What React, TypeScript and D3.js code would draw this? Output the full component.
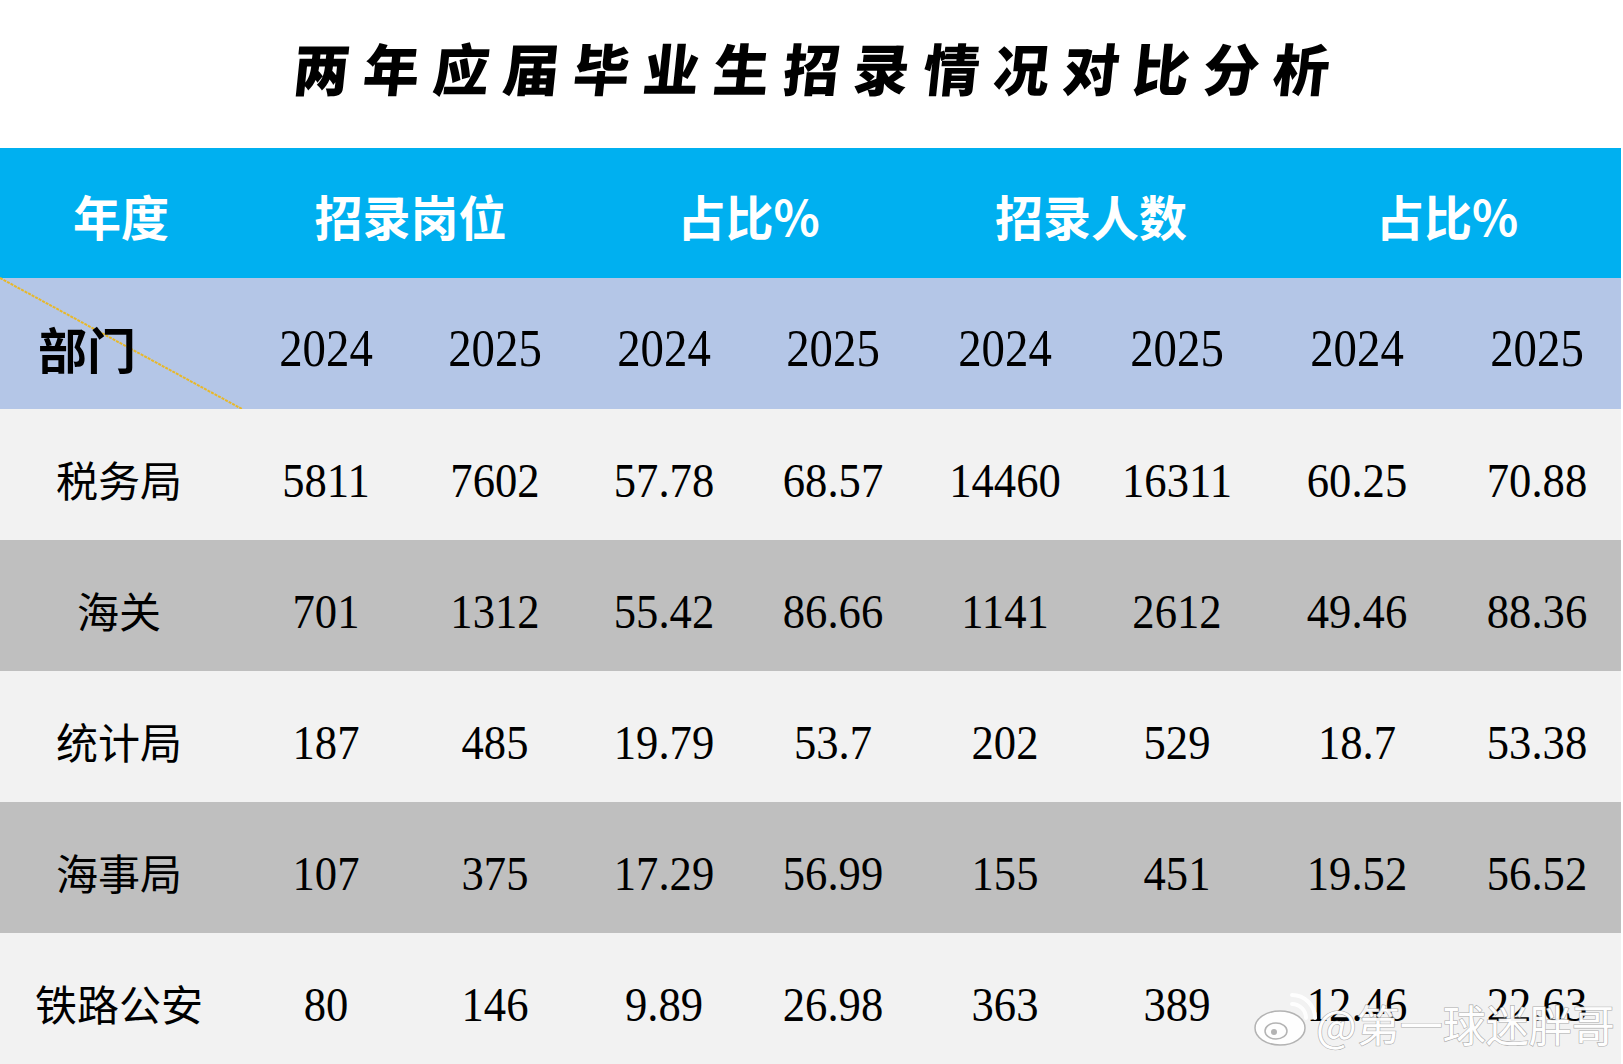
import React, { useEffect, useRef } from 'react';
import * as d3 from 'd3';

const title = '两年应届毕业生招录情况对比分析';
const groupLabels = ['招录岗位', '占比%', '招录人数', '占比%'];
const years = ['2024', '2025'];
const departments = ['税务局', '海关', '统计局', '海事局', '铁路公安'];

// one array per column: group x year
const posts2024 = ['5811', '701', '187', '107', '80'];
const posts2025 = ['7602', '1312', '485', '375', '146'];
const postShare2024 = ['57.78', '55.42', '19.79', '17.29', '9.89'];
const postShare2025 = ['68.57', '86.66', '53.7', '56.99', '26.98'];
const hires2024 = ['14460', '1141', '202', '155', '363'];
const hires2025 = ['16311', '2612', '529', '451', '389'];
const hireShare2024 = ['60.25', '49.46', '18.7', '19.52', '12.46'];
const hireShare2025 = ['70.88', '88.36', '53.38', '56.52', '22.63'];

const columns = [
  posts2024, posts2025,
  postShare2024, postShare2025,
  hires2024, hires2025,
  hireShare2024, hireShare2025,
];

const App = () => {
  const svgRef = useRef<SVGSVGElement | null>(null);

  useEffect(() => {
    document.body.style.margin = '0';
    const svg = d3.select(svgRef.current);
    if (!svgRef.current) return;
    svg.selectAll('*').remove();

    const W = 1623;
    const H = 1064;
    const right = 1621;
    const cjk = '"Noto Sans CJK SC", sans-serif';
    const serif = '"Liberation Serif", "Times New Roman", serif';

    svg.attr('width', W).attr('height', H).style('display', 'block');

    // column centres (slightly uneven widths in the original)
    const x = d3.scaleLinear().domain([0, 3, 5, 7]).range([326, 833, 1177, 1537]);
    const y = d3.scaleBand<string>().domain(departments).range([409, H]);

    // background
    svg.append('rect').attr('width', W).attr('height', H).attr('fill', '#ffffff');

    // title
    svg.append('text')
      .attr('x', 817)
      .attr('y', 91)
      .attr('text-anchor', 'middle')
      .attr('font-family', cjk)
      .attr('font-weight', 900)
      .attr('font-size', 56)
      .attr('letter-spacing', 14)
      .attr('transform', 'skewX(-6) translate(9,0)')
      .attr('fill', '#000')
      .text(title);

    // blue header band
    svg.append('rect')
      .attr('x', 0).attr('y', 148)
      .attr('width', right).attr('height', 130)
      .attr('fill', '#00b0f0');

    svg.append('text')
      .attr('x', 121).attr('y', 236)
      .attr('text-anchor', 'middle')
      .attr('font-family', cjk)
      .attr('font-weight', 700)
      .attr('font-size', 48)
      .attr('fill', '#fff')
      .text('年度');

    svg.selectAll('text.group')
      .data(groupLabels)
      .join('text')
      .attr('class', 'group')
      .attr('x', (d, i) => (x(i * 2) + x(i * 2 + 1)) / 2)
      .attr('y', 236)
      .attr('text-anchor', 'middle')
      .attr('font-family', cjk)
      .attr('font-weight', 700)
      .attr('font-size', 48)
      .attr('fill', '#fff')
      .text(d => d);

    // year row
    svg.append('rect')
      .attr('x', 0).attr('y', 278)
      .attr('width', right).attr('height', 131)
      .attr('fill', '#b4c6e7');

    svg.append('line')
      .attr('x1', 0).attr('y1', 278)
      .attr('x2', 242).attr('y2', 409)
      .attr('stroke', '#e8b828')
      .attr('stroke-width', 2)
      .attr('stroke-dasharray', '3 1');

    svg.append('text')
      .attr('x', 38).attr('y', 369)
      .attr('font-family', cjk)
      .attr('font-weight', 700)
      .attr('font-size', 49)
      .attr('fill', '#000')
      .text('部门');

    svg.selectAll('text.year')
      .data(d3.range(8))
      .join('text')
      .attr('class', 'year')
      .attr('transform', d => `translate(${x(d)},366) scale(0.9,1)`)
      .attr('text-anchor', 'middle')
      .attr('font-family', serif)
      .attr('font-size', 52)
      .attr('fill', '#000')
      .text(d => years[d % 2]);

    // body rows
    const rows = svg.selectAll('g.row')
      .data(departments)
      .join('g')
      .attr('class', 'row')
      .attr('transform', d => `translate(0,${y(d)})`);

    rows.append('rect')
      .attr('width', right)
      .attr('height', y.bandwidth())
      .attr('fill', (d, i) => (i % 2 === 0 ? '#f2f2f2' : '#bfbfbf'));

    const mid = y.bandwidth() / 2;

    rows.append('text')
      .attr('x', 119)
      .attr('y', mid + 6 + 16)
      .attr('text-anchor', 'middle')
      .attr('font-family', cjk)
      .attr('font-size', 42)
      .attr('fill', '#000')
      .text(d => d);

    rows.each(function (dept, ri) {
      d3.select(this).selectAll('text.val')
        .data(columns.map(col => col[ri]))
        .join('text')
        .attr('class', 'val')
        .attr('transform', (d, ci) => `translate(${x(ci)},${mid + 6 + 16}) scale(0.93,1)`)
        .attr('text-anchor', 'middle')
        .attr('font-family', serif)
        .attr('font-size', 48)
        .attr('fill', '#000')
        .text(d => d);
    });

    // watermark
    const wm = svg.append('g').attr('opacity', 0.95);
    wm.append('ellipse')
      .attr('cx', 1280).attr('cy', 1028)
      .attr('rx', 25).attr('ry', 17)
      .attr('fill', '#ffffff')
      .attr('stroke', '#b0b0b0')
      .attr('stroke-width', 1.5);
    wm.append('ellipse')
      .attr('cx', 1276).attr('cy', 1031)
      .attr('rx', 11).attr('ry', 8)
      .attr('fill', 'none')
      .attr('stroke', '#b0b0b0')
      .attr('stroke-width', 1.5);
    wm.append('circle')
      .attr('cx', 1274).attr('cy', 1032)
      .attr('r', 3).attr('fill', '#b0b0b0');
    wm.append('path')
      .attr('d', 'M1292,1004 a14,14 0 0 1 14,14 M1292,995 a23,23 0 0 1 23,23')
      .attr('fill', 'none')
      .attr('stroke', '#ffffff')
      .attr('stroke-width', 4)
      .attr('stroke-linecap', 'round');
    wm.append('text')
      .attr('x', 1316).attr('y', 1042)
      .attr('font-family', cjk)
      .attr('font-size', 43)
      .attr('fill', '#ffffff')
      .attr('stroke', '#a8a8a8')
      .attr('stroke-width', 1.2)
      .attr('paint-order', 'stroke')
      .text('@第一球迷胖哥');
  }, []);

  return <svg ref={svgRef}></svg>;
};

export default App;
